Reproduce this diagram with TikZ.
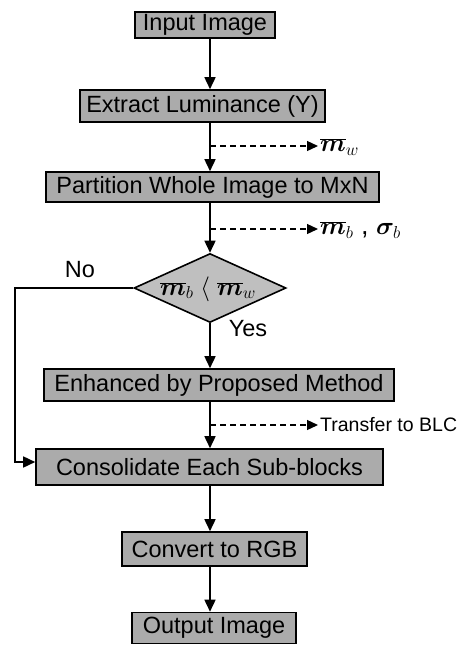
\documentclass[tikz,border=0pt]{standalone}
\usepackage{fontspec}
\setmainfont{Liberation Sans}
\usepackage{bm}
\usetikzlibrary{arrows.meta,shapes.geometric}
\begin{document}
\begin{tikzpicture}[x=1pt,y=1pt,
  proc/.style={draw=black, line width=1.6pt, fill=black!33, inner sep=0pt, font=\fontsize{23.5}{27}\selectfont},
  deci/.style={diamond, draw=black, line width=1.6pt, fill=black!25, inner sep=0pt},
  arr/.style={line width=1.6pt, -{Triangle[width=11pt,length=12pt]}},
  darr/.style={line width=1.3pt, dash pattern=on 6pt off 4pt, -{Triangle[width=10pt,length=11pt]}},
  lbl/.style={font=\fontsize{23.5}{27}\selectfont, inner sep=0pt},
  mlbl/.style={font=\fontsize{27}{30}\selectfont, inner sep=0pt},
  small/.style={font=\fontsize{19.5}{23}\selectfont, inner sep=0pt},
]
\useasboundingbox (0,0) rectangle (462,-646);
\coordinate (sp) at (210,0);

\node[proc, minimum width=140pt, minimum height=26pt] (in) at (205,-25) {Input Image};
\node[proc, minimum width=245pt, minimum height=32pt] (ex) at (202.5,-106) {Extract Luminance (Y)};
\node[proc, minimum width=333pt, minimum height=30pt] (pa) at (212.5,-187) {Partition Whole Image to MxN};
\node[deci, minimum width=152pt, minimum height=69pt] (dia) at (210,-288) {};
\node[mlbl] (dtxt) at (208,-289) {$\overline{\bm m}_{b}\;\langle\;\overline{\bm m}_{w}$};
\node[proc, minimum width=350pt, minimum height=32pt] (en) at (219,-385) {Enhanced by Proposed Method};
\node[proc, minimum width=347pt, minimum height=36pt] (co) at (209.5,-467) {Consolidate Each Sub-blocks};
\node[proc, minimum width=185pt, minimum height=34pt] (cv) at (214.5,-549) {Convert to RGB};
\node[proc, minimum width=164pt, minimum height=31pt] (ou) at (214,-628) {Output Image};

\node[mlbl, anchor=west] (mw) at (320,-147) {$\overline{\bm m}_{w}$};
\node[mlbl, anchor=west] (mb) at (320,-230) {$\overline{\bm m}_{b}$ , $\bm{\sigma}_{b}$};
\node[small, anchor=west] (tr) at (320,-425) {Transfer to BLC};
\node[lbl] (no) at (80,-270) {No};
\node[lbl] (yes) at (248,-329) {Yes};
\coordinate (nb) at (15,-288);

\draw[arr] (in.south -| sp) -- (ex.north -| sp);
\draw[arr] (ex.south -| sp) -- (pa.north -| sp);
\draw[arr] (pa.south -| sp) -- (dia.north);
\draw[arr] (dia.south) -- (en.north -| sp);
\draw[arr] (en.south -| sp) -- (co.north -| sp);
\draw[arr] (co.south -| sp) -- (cv.north -| sp);
\draw[arr] (cv.south -| sp) -- (ou.north -| sp);
\draw[arr] (dia.west) -- (nb) |- ([yshift=5pt]co.west);

\draw[darr] (sp |- 0,-146) -- ([xshift=-2pt]mw.west |- 0,-146);
\draw[darr] (sp |- 0,-229) -- ([xshift=-2pt]mb.west |- 0,-229);
\draw[darr] (sp |- tr.west) -- ([xshift=-2pt]tr.west);
\end{tikzpicture}
\end{document}
